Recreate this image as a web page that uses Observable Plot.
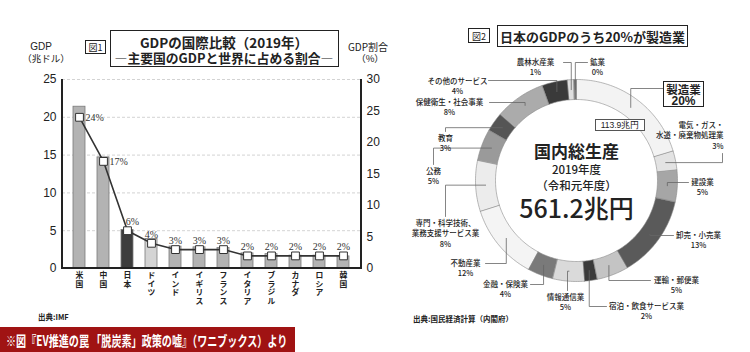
<!DOCTYPE html>
<html><head><meta charset="utf-8">
<script src="https://cdn.jsdelivr.net/npm/d3@7"></script>
<script src="https://cdn.jsdelivr.net/npm/@observablehq/plot@0.6"></script>
<style>
body{margin:0;background:#fff;}
#root{position:relative;width:750px;height:352px;overflow:hidden;font-family:"Noto Sans CJK JP","Noto Sans",sans-serif;color:#222;background:#fff;}
.a{position:absolute;white-space:nowrap;line-height:1;}
.c{transform:translate(-50%,-50%);}
.box{position:absolute;box-sizing:border-box;border:1.5px solid #222;background:#fff;}
svg{position:absolute;top:0;overflow:visible;}
</style></head><body><div id="root"></div>
<script>
// ---------- DATA ----------
const countries = ["米国","中国","日本","ドイツ","インド","イギリス","フランス","イタリア","ブラジル","カナダ","ロシア","韓国"];
const gdpTrillionUSD = [21.4,14.7,5.1,3.9,2.9,2.8,2.7,2.0,1.9,1.7,1.7,1.6];
const worldSharePct = [24,17,6,4,3,3,3,2,2,2,2,2];
const leftTicks = [0,5,10,15,20,25];
const rightTicks = [0,5,10,15,20,25,30];

const industries = ["製造業","電気・ガス・水道・廃棄物処理業","建設業","卸売・小売業","運輸・郵便業","宿泊・飲食サービス業","情報通信業","金融・保険業","不動産業","専門・科学技術、業務支援サービス業","公務","教育","保健衛生・社会事業","その他のサービス","農林水産業","鉱業"];
const industrySharePct = [20,3,5,13,5,2,5,4,12,8,5,3,8,4,1,0.4];
const totalGDP = "561.2兆円";
const manufacturingGDP = "113.9兆円";

// ---------- STYLE ----------
const barFill = {"日本":"#3d3d3d","ドイツ":"#d4d4d4"};
const barDefault = "#b3b3b3";
const sliceFill = ["#f3f3f3","#e3e3e3","#a6a6a6","#5a5a5a","#c4c4c4","#3a3a3a","#dadada","#7a7a7a","#f4f4f4","#ececec","#9a9a9a","#555555","#ababab","#3a3a3a","#dedede","#777777"];
const labelLines = ["製造業","電気・ガス・\n水道・廃棄物処理業","建設業","卸売・小売業","運輸・郵便業","宿泊・飲食サービス業","情報通信業","金融・保険業","不動産業","専門・科学技術、\n業務支援サービス業","公務","教育","保健衛生・社会事業","その他のサービス","農林水産業","鉱業"];
// label layout (page px): text position, anchor, leader start, bend
const CX = 576, CY = 180;
const labelLayout = [
  null,
  {tx:723, ty:125, anchor:"end", sx:722, sy:153, bend:"v"},
  {tx:702, ty:182, anchor:"middle", sx:688, sy:182, bend:"h"},
  {tx:698, ty:235, anchor:"middle", sx:673, sy:235, bend:"h"},
  {tx:676, ty:280, anchor:"middle", sx:650, sy:280, bend:"h"},
  {tx:646, ty:306, anchor:"middle", sx:606, sy:306, bend:"h"},
  {tx:565, ty:297, anchor:"middle", sx:567, sy:290, bend:"v"},
  {tx:505, ty:284, anchor:"middle", sx:530, sy:284, bend:"h"},
  {tx:465, ty:263, anchor:"middle", sx:485, sy:263, bend:"h"},
  {tx:445, ty:223, anchor:"middle", sx:445, sy:216, bend:"v"},
  {tx:433, ty:171, anchor:"middle", sx:433, sy:164, bend:"v"},
  {tx:445, ty:138, anchor:"middle", sx:445, sy:131, bend:"v"},
  {tx:449, ty:102, anchor:"middle", sx:489, sy:102, bend:"h"},
  {tx:457, ty:81, anchor:"middle", sx:488, sy:80, bend:"h"},
  {tx:535, ty:62, anchor:"middle", sx:563, sy:62, bend:"h"},
  {tx:597, ty:62, anchor:"middle", sx:587, sy:62, bend:"h"}
];
const manufLeader = {sx:663, sy:88, bend:"h"};

const root = document.getElementById("root");
const FONT = '"Noto Sans CJK JP","Noto Sans",sans-serif';

function div(html, x, y, css, center=true){
  const d = document.createElement("div");
  d.className = "a" + (center ? " c" : "");
  d.style.left = x + "px"; d.style.top = y + "px";
  d.style.cssText += css || "";
  d.innerHTML = html;
  root.appendChild(d);
  return d;
}
function box(x, y, w, h, css){
  const d = document.createElement("div");
  d.className = "box";
  d.style.left = x+"px"; d.style.top = y+"px"; d.style.width = w+"px"; d.style.height = h+"px";
  d.style.cssText += css || "";
  root.appendChild(d);
  return d;
}

// ---------- LEFT CHART ----------
const k = 25/30;
const gdpData = countries.map((c,i)=>({country:c, gdp:gdpTrillionUSD[i], share:worldSharePct[i], i}));
const axisFrame = (index, scales, values, dims) => {
  const g = document.createElementNS("http://www.w3.org/2000/svg","g");
  const l = dims.marginLeft, r = dims.width - dims.marginRight, t = dims.marginTop, b = dims.height - dims.marginBottom;
  g.innerHTML = `<path d="M${l},${t}V${b}H${r}V${t}" fill="none" stroke="#222" stroke-width="2"/>`;
  return g;
};
const left = Plot.plot({
  width: 375, height: 325,
  marginLeft: 62, marginRight: 14, marginTop: 79, marginBottom: 57,
  x: {domain: countries, paddingInner: 0.48, paddingOuter: 0.24, axis: null},
  y: {domain: [0,25], axis: null},
  color: {type: "identity"},
  style: {fontFamily: FONT, background: "transparent", color: "#222", overflow: "visible"},
  marks: [
    Plot.ruleY(leftTicks.filter(v=>v>0), {stroke:"#c8c8c8", strokeDasharray:"3,2", strokeWidth:0.8}),
    Plot.barY(gdpData, {x:"country", y:"gdp", fill: d=>barFill[d.country]||barDefault, stroke:"#7a7a7a", strokeWidth:0.8}),
    Plot.line(gdpData, {x:"country", y:d=>d.share*k, stroke:"#333", strokeWidth:1.6}),
    Plot.dot(gdpData, {x:"country", y:d=>d.share*k, symbol:"square", r:4.4, fill:"white", stroke:"#333", strokeWidth:1}),
    Plot.text(gdpData.filter(d=>d.i<2), {x:"country", y:d=>d.share*k, text:d=>d.share+"%", dx:6, textAnchor:"start", fontSize:10, fontFamily:"Liberation Serif", fill:"#333"}),
    Plot.text(gdpData.filter(d=>d.i===2), {x:"country", y:d=>d.share*k, text:d=>d.share+"%", dx:5, dy:-9, fontSize:10, fontFamily:"Liberation Serif", fill:"#333"}),
    Plot.text(gdpData.filter(d=>d.i>2), {x:"country", y:d=>d.share*k, text:d=>d.share+"%", dy:-9, fontSize:10, fontFamily:"Liberation Serif", fill:"#333"}),
    axisFrame,
    Plot.axisY(leftTicks, {anchor:"left", tickSize:0, tickPadding:6, fontSize:12, fontFamily:"Liberation Sans", label:null}),
    Plot.axisY(rightTicks.map(v=>v*k), {anchor:"right", tickSize:0, tickPadding:5, tickFormat:d=>Math.round(d/k), fontSize:12, fontFamily:"Liberation Sans", label:null}),
    Plot.text(countries, {x:d=>d, text:d=>[...d].join("\n"), frameAnchor:"bottom", lineAnchor:"top", dy:4, lineHeight:1.08, fontSize:7.8, fontWeight:"bold", fill:"#222"})
  ]
});
left.style.left = "0px";
root.appendChild(left);

// ---------- RIGHT CHART (donut) ----------
const R0 = 81, R1 = 101, RM = 91;
const indData = industries.map((n,i)=>({name:n, pct:industrySharePct[i], i}));
const arcs = d3.pie().sort(null).value(d=>d.pct)(indData);
const polyPts = [];
arcs.forEach(a=>{
  const n = Math.max(2, Math.ceil((a.endAngle-a.startAngle)/(Math.PI/180)));
  for(let j=0;j<=n;j++){const t=a.startAngle+(a.endAngle-a.startAngle)*j/n; polyPts.push({i:a.data.i, x:R1*Math.sin(t), y:-R1*Math.cos(t), fill:sliceFill[a.data.i]});}
  for(let j=n;j>=0;j--){const t=a.startAngle+(a.endAngle-a.startAngle)*j/n; polyPts.push({i:a.data.i, x:R0*Math.sin(t), y:-R0*Math.cos(t), fill:sliceFill[a.data.i]});}
});
const ringPt = i => {const a = arcs[i]; const t=(a.startAngle+a.endAngle)/2; return [RM*Math.sin(t), -RM*Math.cos(t)];};
const leaderPts = [];
const addLeader = (i, L) => {
  const [rx, ry] = ringPt(i); const sx=L.sx-CX, sy=L.sy-CY;
  const corner = L.bend==="h" ? [rx, sy] : [sx, ry];
  [[sx,sy],corner,[rx,ry]].forEach(p=>leaderPts.push({i, x:p[0], y:p[1]}));
};
addLeader(0, manufLeader);
labelLayout.forEach((L,i)=>{ if(L) addLeader(i, L); });
const labelData = labelLayout.map((L,i)=> L ? {i, x:L.tx-CX, y:L.ty-CY-5, anchor:L.anchor, text: labelLines[i] + "\n" + Math.round(industrySharePct[i]) + "%"} : null).filter(Boolean);

const right = Plot.plot({
  width: 375, height: 352, margin: 0,
  x: {domain: [-(CX-375), 750-CX], axis: null},
  y: {domain: [-CY, 352-CY], reverse: true, axis: null},
  color: {type: "identity"},
  style: {fontFamily: FONT, background: "transparent", color: "#222"},
  marks: [
    Plot.line(polyPts, {x:"x", y:"y", z:"i", fill:"fill", stroke:"#8a8a8a", strokeWidth:0.6, curve:"linear-closed"}),
    Plot.line(leaderPts, {x:"x", y:"y", z:"i", stroke:"#666", strokeWidth:0.8}),
    Plot.text(labelData.filter(d=>d.anchor==="middle"), {x:"x", y:"y", text:"text", lineAnchor:"top", lineHeight:1.4, fontSize:7.5, fontWeight:500, fill:"#222", textAnchor:"middle"}),
    Plot.text(labelData.filter(d=>d.anchor==="end"), {x:"x", y:"y", text:"text", lineAnchor:"top", lineHeight:1.4, fontSize:7.5, fontWeight:500, fill:"#222", textAnchor:"end"}),
    Plot.text([{t:"国内総生産", y:-28, s:17}], {x:()=>0, y:"y", text:"t", fontSize:"s", fontWeight:"bold", fill:"#222"}),
    Plot.text([{t:"2019年度", y:-10.5, s:11.5},{t:"（令和元年度）", y:5.5, s:11.5},{t:totalGDP, y:29.5, s:25}],
      {x:()=>0, y:"y", text:"t", fontSize:"s", fontWeight:500, fill:"#222"})
  ]
});
right.style.left = "375px";
root.appendChild(right);

// ---------- HTML annotations ----------
// left titles
box(85, 40, 21, 14, "border-width:1px;");
div("図1", 95.5, 47, "font-size:9px;");
box(110, 30, 229, 37, "");
div("GDPの国際比較（2019年）", 224, 42.5, "font-size:13.5px;font-weight:700;");
div("―主要国のGDPと世界に占める割合―", 224, 58, "font-size:12.8px;font-weight:700;");
div("GDP", 41, 46.5, "font-size:10px;font-family:'Liberation Sans';");
div("（兆ドル）", 46, 58.5, "font-size:9.5px;");
div("GDP割合", 368, 46.5, "font-size:10px;");
div("（%）", 370, 58.5, "font-size:9.5px;");
div("出典:IMF", 38, 317, "font-size:7.5px;font-weight:700;transform:translateY(-50%);", false);

// right titles
box(468, 28, 22, 15, "border-width:1px;");
div("図2", 479, 35.5, "font-size:9px;");
box(497, 25, 191, 22, "");
div("日本のGDPのうち20%が製造業", 592.5, 36, "font-size:13px;font-weight:700;");
box(595, 119, 50, 12, "border-width:1px;border-color:#555;");
div(manufacturingGDP, 620, 125, "font-size:8.5px;font-family:'Liberation Sans';");
box(663, 81, 41, 26, "");
div("製造業", 683.5, 89.5, "font-size:11.5px;font-weight:700;");
div(Math.round(industrySharePct[0]) + "%", 683.5, 101, "font-size:12px;font-weight:700;font-family:'Liberation Sans';");
div("出典:国民経済計算（内閣府）", 413, 319, "font-size:7.5px;font-weight:700;transform:translateY(-50%);", false);

// banner
const ban = document.createElement("div");
ban.className = "a";
ban.style.cssText = "left:0;top:327px;width:295px;height:25px;background:#a01313;";
root.appendChild(ban);
div("※図『EV推進の罠 「脱炭素」政策の嘘』（ワニブックス）より", 6, 339.5, "color:#fff;font-size:14px;font-weight:700;transform:translateY(-50%) scaleX(0.72);transform-origin:left center;", false);
</script></body></html>
